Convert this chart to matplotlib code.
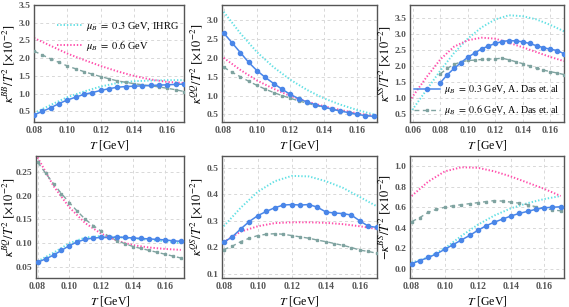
import numpy as np
import matplotlib
matplotlib.use("Agg")
import matplotlib.pyplot as plt

plt.rcParams['mathtext.fontset'] = 'stix'
plt.rcParams['font.family'] = ['Liberation Serif', 'DejaVu Serif']

# ---------------- data ----------------
T_ihrg = [0.08, 0.09, 0.10, 0.11, 0.12, 0.13, 0.14, 0.15, 0.16, 0.17]
T_das = [0.08, 0.085, 0.09, 0.095, 0.10, 0.105, 0.11, 0.115, 0.12, 0.125,
         0.13, 0.135, 0.14, 0.145, 0.15, 0.155, 0.16, 0.165, 0.17]
T_ss_ihrg = [0.058, 0.06, 0.07, 0.08, 0.09, 0.10, 0.11, 0.12, 0.13, 0.14, 0.15, 0.16, 0.17]

# BB
bb_ihrg03 = [0.45, 0.68, 0.90, 1.06, 1.20, 1.30, 1.35, 1.37, 1.38, 1.38]
bb_ihrg06 = [2.57, 2.35, 2.13, 1.95, 1.78, 1.63, 1.50, 1.40, 1.33, 1.30]
bb_das03 = [0.40, 0.50, 0.60, 0.72, 0.82, 0.90, 0.98, 1.03, 1.09, 1.14,
            1.18, 1.20, 1.21, 1.22, 1.23, 1.24, 1.25, 1.26, 1.27]
bb_das06 = [2.20, 2.09, 1.98, 1.88, 1.78, 1.70, 1.62, 1.55, 1.48, 1.42,
            1.36, 1.32, 1.28, 1.25, 1.22, 1.19, 1.15, 1.11, 1.06]
# QQ
qq_ihrg03 = [3.22, 2.65, 2.15, 1.75, 1.42, 1.15, 0.93, 0.76, 0.62, 0.50]
qq_ihrg06 = [2.00, 1.68, 1.40, 1.18, 0.99, 0.84, 0.72, 0.62, 0.53, 0.46]
qq_das03 = [2.66, 2.40, 2.14, 1.88, 1.66, 1.48, 1.32, 1.17, 1.03, 0.92,
            0.83, 0.76, 0.70, 0.64, 0.59, 0.55, 0.50, 0.47, 0.45]
qq_das06 = [1.75, 1.62, 1.50, 1.38, 1.27, 1.17, 1.08, 1.00, 0.93, 0.86,
            0.80, 0.74, 0.69, 0.64, 0.60, 0.56, 0.52, 0.48, 0.44]
# SS
ss_ihrg03 = [0.55, 0.65, 1.25, 1.85, 2.40, 2.85, 3.20, 3.45, 3.58, 3.55, 3.45, 3.28, 3.08]
ss_ihrg06 = [0.90, 1.05, 1.65, 2.20, 2.60, 2.80, 2.88, 2.85, 2.72, 2.58, 2.43, 2.28, 2.15]
ss_das03 = [1.47, 1.72, 1.92, 2.10, 2.27, 2.40, 2.53, 2.62, 2.70, 2.76,
            2.79, 2.78, 2.75, 2.70, 2.63, 2.57, 2.52, 2.48, 2.38]
ss_das06 = [1.75, 1.92, 2.05, 2.12, 2.17, 2.18, 2.20, 2.21, 2.22, 2.24,
            2.19, 2.13, 2.07, 2.00, 1.93, 1.87, 1.82, 1.78, 1.73]
# BQ
bq_ihrg03 = [0.062, 0.080, 0.100, 0.112, 0.115, 0.113, 0.110, 0.107, 0.104, 0.100]
bq_ihrg06 = [0.280, 0.220, 0.175, 0.142, 0.120, 0.105, 0.096, 0.091, 0.088, 0.086]
bq_das03 = [0.060, 0.067, 0.075, 0.085, 0.095, 0.103, 0.108, 0.111, 0.112, 0.112,
            0.113, 0.112, 0.111, 0.110, 0.109, 0.108, 0.107, 0.105, 0.104]
bq_das06 = [0.270, 0.247, 0.225, 0.204, 0.185, 0.167, 0.150, 0.137, 0.125, 0.114,
            0.105, 0.099, 0.093, 0.089, 0.085, 0.081, 0.077, 0.073, 0.069]
# QS
qs_ihrg03 = [0.28, 0.35, 0.41, 0.45, 0.47, 0.468, 0.45, 0.425, 0.39, 0.355]
qs_ihrg06 = [0.22, 0.26, 0.28, 0.292, 0.295, 0.295, 0.293, 0.288, 0.28, 0.27]
qs_das03 = [0.220, 0.240, 0.270, 0.298, 0.320, 0.336, 0.350, 0.360, 0.362, 0.360,
            0.362, 0.352, 0.334, 0.330, 0.328, 0.322, 0.300, 0.280, 0.276]
qs_das06 = [0.192, 0.205, 0.222, 0.235, 0.245, 0.250, 0.252, 0.250, 0.245, 0.240,
            0.235, 0.228, 0.222, 0.215, 0.208, 0.200, 0.190, 0.185, 0.178]
# BS
bs_ihrg03 = [0.06, 0.11, 0.20, 0.32, 0.43, 0.52, 0.59, 0.64, 0.68, 0.71]
bs_ihrg06 = [0.71, 0.85, 0.95, 0.99, 0.985, 0.95, 0.90, 0.84, 0.78, 0.71]
bs_das03 = [0.05, 0.08, 0.11, 0.145, 0.19, 0.235, 0.28, 0.325, 0.375, 0.42,
            0.455, 0.485, 0.515, 0.54, 0.56, 0.58, 0.595, 0.60, 0.605]
bs_das06 = [0.46, 0.50, 0.55, 0.58, 0.60, 0.615, 0.625, 0.635, 0.645, 0.655,
            0.665, 0.66, 0.65, 0.64, 0.625, 0.605, 0.59, 0.575, 0.565]

ylabels = [r'$\kappa^{BB}/T^2\ [\times 10^{-2}]$', r'$\kappa^{QQ}/T^2\ [\times 10^{-2}]$',
           r'$\kappa^{SS}/T^2\ [\times 10^{-2}]$', r'$\kappa^{BQ}/T^2\ [\times 10^{-2}]$',
           r'$\kappa^{QS}/T^2\ [\times 10^{-2}]$', r'$-\kappa^{BS}/T^2\ [\times 10^{-2}]$']
xlabel = r'$T$ [GeV]'
leg1 = [r'$\mu_B\ =\ 0.3$ GeV, IHRG', r'$\mu_B\ =\ 0.6$ GeV']
leg2 = [r'$\mu_B\ =\ 0.3$ GeV, A. Das et. al', r'$\mu_B\ =\ 0.6$ GeV, A. Das et. al']

C_CYAN = '#62e0e4'
C_PINK = '#ff4fac'
C_BLUE = '#4a86e8'
C_GRAY = '#7fa3a0'

W, H = 569, 307
fig = plt.figure(figsize=(W / 100, H / 100), dpi=100)

def px_axes(x0, y0, x1, y1):
    return fig.add_axes([x0 / W, 1 - y1 / H, (x1 - x0) / W, (y1 - y0) / H])

boxes = [(34, 5, 184, 122), (222, 5, 377, 122), (410, 5, 564, 122),
         (36, 156, 184, 278), (222, 156, 377, 278), (410, 156, 564, 278)]

panels = [
    (T_ihrg, bb_ihrg03, bb_ihrg06, bb_das03, bb_das06, (0.08, 0.17), (0.2, 3.5), [0.5, 1.0, 1.5, 2.0, 2.5, 3.0, 3.5], '{:.1f}'),
    (T_ihrg, qq_ihrg03, qq_ihrg06, qq_das03, qq_das06, (0.079, 0.172), (0.3, 3.4), [0.5, 1.0, 1.5, 2.0, 2.5, 3.0], '{:.1f}'),
    (T_ss_ihrg, ss_ihrg03, ss_ihrg06, ss_das03, ss_das06, (0.058, 0.17), (0.25, 3.9), [0.5, 1.0, 1.5, 2.0, 2.5, 3.0, 3.5], '{:.1f}'),
    (T_ihrg, bq_ihrg03, bq_ihrg06, bq_das03, bq_das06, (0.079, 0.172), (0.027, 0.283), [0.05, 0.10, 0.15, 0.20, 0.25], '{:.2f}'),
    (T_ihrg, qs_ihrg03, qs_ihrg06, qs_das03, qs_das06, (0.079, 0.17), (0.085, 0.545), [0.1, 0.2, 0.3, 0.4, 0.5], '{:.1f}'),
    (T_ihrg, bs_ihrg03, bs_ihrg06, bs_das03, bs_das06, (0.079, 0.172), (-0.09, 1.1), [0.0, 0.2, 0.4, 0.6, 0.8, 1.0], '{:.1f}'),
]

xt_top3 = [0.06, 0.08, 0.10, 0.12, 0.14, 0.16]
xt = [0.08, 0.10, 0.12, 0.14, 0.16]

for i, (box, p) in enumerate(zip(boxes, panels)):
    Ti, y3, y6, d3, d6, xl, yl, yt, fmt = p
    ax = px_axes(*box)
    l1, = ax.plot(Ti, y3, linestyle=(0, (0.7, 1.0)), color=C_CYAN, lw=1.4)
    l2, = ax.plot(Ti, y6, linestyle=(0, (0.7, 1.0)), color=C_PINK, lw=1.4)
    l3, = ax.plot(T_das, d3, '-', color=C_BLUE, lw=1.1, marker='o', ms=3.0, zorder=4)
    l4, = ax.plot(T_das, d6, linestyle=(0, (3.5, 2.5)), color=C_GRAY, lw=1.0, marker='s', ms=2.0, zorder=3)
    ax.set_xlim(*xl)
    ax.set_ylim(*yl)
    ticks = xt_top3 if i == 2 else xt
    ax.set_xticks(ticks)
    ax.set_xticklabels(['{:.2f}'.format(t) for t in ticks])
    ax.set_yticks(yt)
    ax.set_yticklabels([fmt.format(t) for t in yt])
    ax.grid(True, color='#d8d8d8', linestyle=(0, (3, 3)), lw=0.7)
    ax.tick_params(axis='x', labelsize=7, labelcolor='#555555', length=0, pad=3)
    ax.tick_params(axis='y', labelsize=6.8, labelcolor='#555555', length=0, pad=2.5)
    for lab in ax.get_xticklabels() + ax.get_yticklabels():
        lab.set_fontweight('bold')
    for s in ax.spines.values():
        s.set_color('#555555')
        s.set_linewidth(1.0)
    ax.set_xlabel(xlabel, fontsize=8.5, labelpad=2)
    ax.set_ylabel(ylabels[i], fontsize=9, labelpad=1)
    if i == 3:
        bw = box[2] - box[0]
        ax.yaxis.set_label_coords((17 - box[0]) / bw, 0.5)
    if i == 0:
        ax.legend([l1, l2], leg1, loc='upper right', bbox_to_anchor=(1.0, 0.92), frameon=False,
                  fontsize=7.5, handlelength=2.4, handletextpad=0.4, labelspacing=0.6, borderaxespad=0.1)
    if i == 2:
        ax.legend([l3, l4], leg2, loc='lower right', frameon=False,
                  fontsize=7.2, handlelength=2.6, handletextpad=0.4, labelspacing=0.7, borderaxespad=0.1)

fig.savefig('out.png', dpi=100)
